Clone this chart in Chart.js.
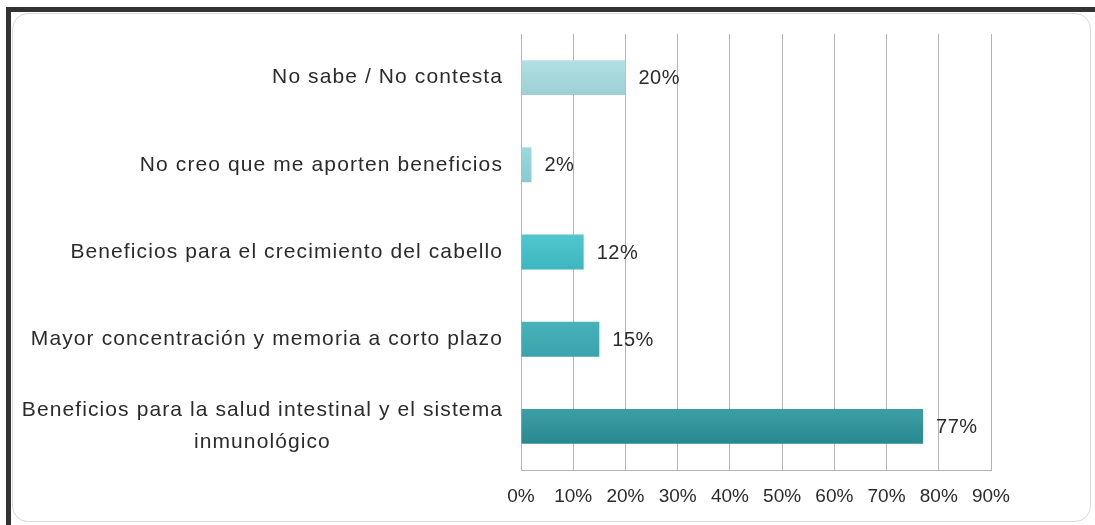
<!DOCTYPE html>
<html lang="es">
<head>
    <meta charset="UTF-8">
    <title>Beneficios</title>
    <script src="https://cdn.jsdelivr.net/npm/chart.js"></script>
    <style>
        html, body { margin: 0; padding: 0; background: #fff; overflow: hidden; }
        .frame {
            position: absolute; left: 6px; top: 7px; width: 1100px; height: 530px;
            border-top: 5px solid #333; border-left: 5px solid #333;
        }
        .panel {
            position: absolute; left: 12px; top: 13px; width: 1077px; height: 507px;
            border: 1px solid #d8d8d8; border-radius: 16px; background: #fff;
        }
        canvas { position: absolute; left: 0; top: 0; }
    </style>
</head>
<body>
    <div class="frame"></div>
    <div class="panel"></div>
    <canvas id="chart" width="1095" height="525"></canvas>

    <script>
        // data
        const categories = [
            "No sabe / No contesta",
            "No creo que me aporten beneficios",
            "Beneficios para el crecimiento del cabello",
            "Mayor concentración y memoria a corto plazo",
            ["Beneficios para la salud intestinal y el sistema", "inmunológico"]
        ];
        const values = [20, 2, 12, 15, 77];
        const xTicks = [0, 10, 20, 30, 40, 50, 60, 70, 80, 90];

        const barTop = ["#b2e0e4", "#9dd8dd", "#52c6ce", "#48b3bb", "#3c9fa7"];
        const barBottom = ["#9ccfd5", "#86cbd1", "#3cb6bf", "#3aa2ab", "#28878f"];

        // left labels drawn by hand so the two-line one can be centred
        const labelPlugin = {
            id: "labels",
            afterDraw(chart) {
                const ctx = chart.ctx;
                const y = chart.scales.y;
                const x = chart.scales.x;
                ctx.save();
                ctx.fillStyle = "#2b2b2b";
                ctx.font = "21px 'Liberation Sans', Arial, sans-serif";
                ctx.letterSpacing = "1.1px";
                ctx.textBaseline = "middle";
                categories.forEach((lab, i) => {
                    const yc = y.getPixelForValue(i);
                    if (Array.isArray(lab)) {
                        const w = Math.max(...lab.map(l => ctx.measureText(l).width));
                        const cx = 503 - w / 2;
                        ctx.textAlign = "center";
                        lab.forEach((l, j) => {
                            ctx.fillText(l, cx, yc + (j - (lab.length - 1) / 2) * 32);
                        });
                    } else {
                        ctx.textAlign = "right";
                        ctx.fillText(lab, 503, yc);
                    }
                });
                // value labels
                ctx.letterSpacing = "0.5px";
                ctx.font = "20px 'Liberation Sans', Arial, sans-serif";
                ctx.textAlign = "left";
                values.forEach((v, i) => {
                    ctx.fillText(v + "%", x.getPixelForValue(v) + 13, y.getPixelForValue(i) + 1);
                });
                ctx.restore();
            }
        };

        const chart = new Chart(document.getElementById("chart"), {
            type: "bar",
            data: {
                labels: categories,
                datasets: [{
                    data: values,
                    backgroundColor: function (c) {
                        const chart = c.chart;
                        const i = c.dataIndex;
                        if (!chart.chartArea) return barTop[i];
                        const yc = chart.scales.y.getPixelForValue(i);
                        const g = chart.ctx.createLinearGradient(0, yc - 18, 0, yc + 18);
                        g.addColorStop(0, barTop[i]);
                        g.addColorStop(1, barBottom[i]);
                        return g;
                    },
                    borderWidth: 0,
                    categoryPercentage: 1,
                    barPercentage: 0.4
                }]
            },
            options: {
                indexAxis: "y",
                responsive: false,
                animation: false,
                layout: { padding: { left: 0, right: 104, top: 34, bottom: 15 } },
                plugins: { legend: { display: false }, tooltip: { enabled: false } },
                scales: {
                    x: {
                        min: 0,
                        max: 90,
                        afterBuildTicks: s => { s.ticks = xTicks.map(v => ({ value: v })); },
                        afterFit: s => { s.height = 40; },
                        grid: { color: "#b4b4b4", drawTicks: false },
                        border: { color: "#b4b4b4" },
                        ticks: {
                            padding: 15,
                            color: "#2b2b2b",
                            font: { family: "'Liberation Sans', Arial, sans-serif", size: 19 },
                            callback: v => v + "%"
                        }
                    },
                    y: {
                        afterFit: s => { s.width = 521; },
                        grid: { display: false },
                        border: { display: true, color: "#b4b4b4" },
                        ticks: { display: false }
                    }
                }
            },
            plugins: [labelPlugin]
        });
    </script>
</body>
</html>
